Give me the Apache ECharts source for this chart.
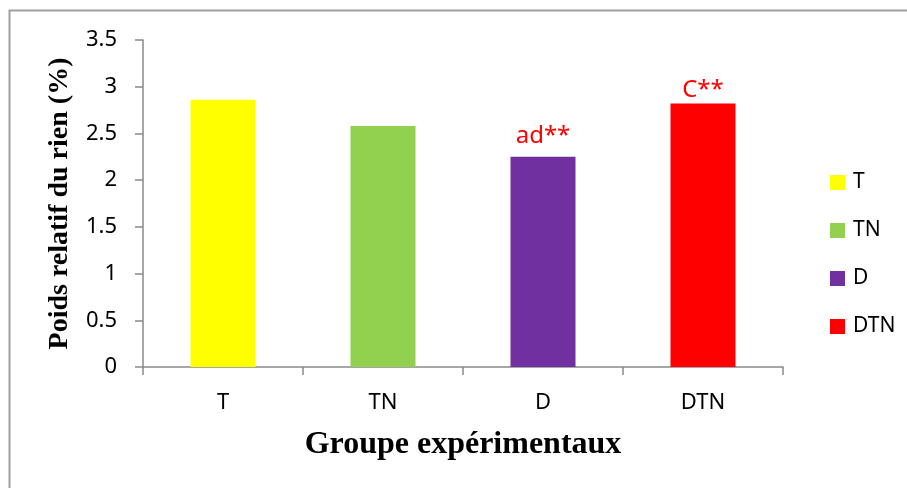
<!DOCTYPE html>
<html>
<head>
<meta charset="utf-8">
<script src="https://cdn.jsdelivr.net/npm/echarts@6/dist/echarts.min.js"></script>
<style>html,body{margin:0;padding:0;background:#fff}#c{width:907px;height:488px}</style>
</head>
<body>
<div id="c"></div>
<script>
const categories = ['T', 'TN', 'D', 'DTN'];
const values = [2.86, 2.58, 2.25, 2.82];
const annotations = ['', '', 'ad**', 'C**'];
const annotationGaps = [0, 0, 9, 1];
const colors = ['#FFFF00', '#92D050', '#7030A0', '#FF0000'];
const yTicks = { min: 0, max: 3.5, interval: 0.5 };
const yTitle = 'Poids relatif du rien (%)';
const xTitle = 'Groupe expérimentaux';

const chart = echarts.init(document.getElementById('c'), null, { renderer: 'canvas' });
const axisGray = '#898989';
const series = categories.map((name, i) => ({
  name: name,
  type: 'bar',
  stack: 'all',
  barWidth: 65,
  itemStyle: { color: colors[i] },
  label: {
    show: annotations[i] !== '',
    position: 'top',
    distance: annotationGaps[i],
    formatter: () => annotations[i],
    color: '#FF0000',
    fontFamily: 'Noto Sans',
    fontSize: 24
  },
  data: categories.map((c, j) => (j === i ? values[i] : null))
}));

chart.setOption({
  animation: false,
  backgroundColor: '#ffffff',
  grid: { left: 143, right: 124, top: 40, bottom: 121 },
  legend: {
    orient: 'vertical',
    left: 825,
    top: 167,
    itemWidth: 15,
    itemHeight: 15,
    itemGap: 27,
    icon: 'rect',
    textStyle: { fontFamily: 'Noto Sans', fontSize: 21, color: '#000', lineHeight: 21, padding: [0, 0, 0, 3] },
    data: categories
  },
  xAxis: {
    type: 'category',
    data: categories,
    name: xTitle,
    nameLocation: 'middle',
    nameGap: 62,
    nameTextStyle: { fontFamily: 'Liberation Serif', fontWeight: 'bold', fontSize: 32, color: '#000' },
    axisLine: { lineStyle: { color: axisGray, width: 1.5 } },
    axisTick: { show: true, length: 8, interval: 0, alignWithLabel: false, lineStyle: { color: axisGray, width: 1.5 } },
    axisLabel: { margin: 25, fontFamily: 'Noto Sans', fontSize: 22, color: '#000' },
    splitLine: { show: false }
  },
  yAxis: {
    type: 'value',
    min: yTicks.min,
    max: yTicks.max,
    interval: yTicks.interval,
    name: yTitle,
    nameLocation: 'middle',
    nameRotate: 90,
    nameGap: 69,
    nameTextStyle: { fontFamily: 'Liberation Serif', fontWeight: 'bold', fontSize: 28, color: '#000' },
    axisLine: { show: true, lineStyle: { color: axisGray, width: 1.5 } },
    axisTick: { show: true, length: 8, lineStyle: { color: axisGray, width: 1.5 } },
    axisLabel: { margin: 26, fontFamily: 'Noto Sans', fontSize: 22, color: '#000' },
    splitLine: { show: false }
  },
  graphic: [{
    type: 'rect',
    shape: { x: 9.5, y: 10.5, width: 1000, height: 1000 },
    style: { fill: 'none', stroke: '#A0A0A0', lineWidth: 2 },
    silent: true
  }],
  series: series
});
</script>
</body>
</html>
